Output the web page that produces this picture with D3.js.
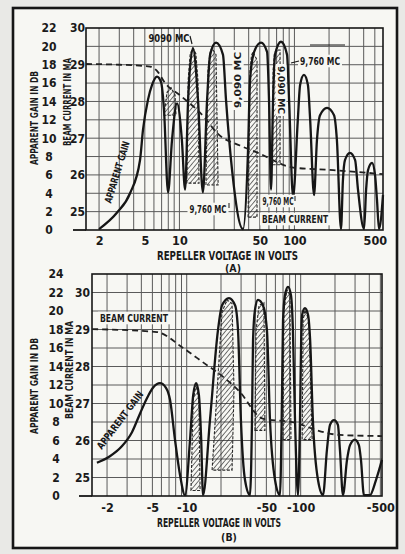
<!DOCTYPE html>
<html>
<head>
<meta charset="utf-8">
<script src="https://cdn.jsdelivr.net/npm/d3@7"></script>
<style>
  body { margin: 0; background: #e9e9e6; }
  svg { display: block; }
  text {
    font-family: "Liberation Sans Narrow", "DejaVu Sans Condensed", "Arial Narrow", sans-serif;
    font-weight: bold;
    fill: #1a1a1a;
  }
</style>
</head>
<body>
<svg id="chart" width="405" height="554"></svg>
<script>
// ---------------------------------------------------------------
// Reflex klystron: apparent gain and beam current vs repeller voltage
// ---------------------------------------------------------------

// Shared axis tick values
const gainTicksA = [0, 2, 4, 6, 8, 10, 12, 14, 16, 18, 20, 22];
const gainTicksB = [0, 2, 4, 6, 8, 10, 12, 14, 16, 18, 20, 22, 24];
const beamTicks = [25, 26, 27, 28, 29, 30];

// Panel (A): positive repeller voltage
const voltTicksA = [2, 5, 10, 50, 100, 500];

// [repeller volts, beam current mA]
const beamCurrentA = [
  [1.54, 29.02], [3.04, 29.0], [5.55, 28.95], [6.51, 28.8], [7.5, 28.5],
  [10.1, 28.17], [16.7, 27.55], [21.2, 27.14], [33.6, 26.8], [48.2, 26.6],
  [97.3, 26.2], [217, 26.13], [589, 26.02]
];

// [repeller volts, apparent gain dB] at 9,760 MC
const gain9760A = [
  [2.00, 0.1], [2.87, 1.9], [3.72, 4.0], [4.54, 7.6], [4.82, 10.9], [5.33, 14.2],
  [5.78, 15.8], [6.38, 16.7], [6.92, 16.1], [7.34, 13.1], [7.96, 4.1],
  [8.62, 9.8], [9.53, 13.8], [10.5, 9.8], [11.2, 4.4],
  [11.9, 14.2], [13.1, 19.8], [14.5, 14.2], [16.0, 4.1],
  [17.4, 14.2], [18.5, 19.1], [20.8, 20.4], [23.9, 19.1], [25.4, 14.2], [28.7, 6.5], [35.7, 0.1],
  [39.5, 8.7], [41.1, 16.3], [44.6, 19.4], [51.2, 20.4], [57.8, 19.4], [60.1, 14.2], [62.6, 4.4],
  [65.2, 14.2], [67.8, 19.1], [76.4, 20.5], [86.2, 19.1], [89.8, 14.2], [97.3, 3.6],
  [107, 12.0], [112, 15.8], [121, 16.9], [131, 15.8], [137, 12.0], [148, 3.8],
  [157, 9.8], [167, 12.5], [192, 13.3], [221, 12.5], [234, 9.8], [254, 0.1],
  [264, 5.4], [275, 7.6], [304, 8.4], [337, 7.6], [357, 4.4], [403, 0.1],
  [420, 4.4], [436, 6.5], [473, 7.3], [502, 6.0], [522, 3.3], [544, 0.1], [589, 3.8]
];

// 9,090 MC modes (hatched), each an outline of [volts, dB]
const hatch9090A = [
  [[7.34, 12.5], [7.8, 15.0], [8.45, 15.5], [9.16, 14.7], [9.34, 12.5]],
  [[11.6, 5.1], [11.9, 16.3], [12.4, 19.2], [13.1, 19.8], [13.9, 19.2], [14.5, 16.3], [14.8, 5.1]],
  [[17.0, 4.9], [17.7, 17.4], [18.5, 19.4], [19.2, 19.8], [20.8, 19.1], [21.7, 4.9]],
  [[39.5, 1.4], [41.1, 17.4], [42.3, 19.0], [43.6, 19.4], [47.3, 18.5], [47.3, 1.4]],
  [[63.9, 7.1], [65.2, 17.4], [67.0, 19.2], [69.2, 19.6], [75.0, 19.6], [75.0, 7.1]]
];

// Panel (B): negative repeller voltage
const voltTicksB = [-2, -5, -10, -50, -100, -500];

const beamCurrentB = [
  [-1.48, 29.01], [-5.49, 28.93], [-9.3, 28.5], [-15.0, 28.04], [-18.4, 27.85],
  [-29.3, 27.31], [-45.8, 26.6], [-92.5, 26.47], [-138, 26.28], [-221, 26.15], [-517, 26.12]
];

const gain9760B = [
  [-1.63, 3.6], [-2.12, 4.3], [-2.71, 5.4], [-3.31, 6.9], [-3.89, 8.9], [-4.49, 10.6],
  [-5.06, 11.7], [-5.83, 12.2], [-6.58, 11.7], [-7.14, 10.4], [-7.89, 6.1], [-8.73, 2.3], [-9.66, 0.1],
  [-10.7, 6.1], [-11.4, 10.9], [-12.1, 12.2], [-12.8, 10.9], [-13.4, 6.1], [-13.9, 0.1],
  [-16.0, 8.2], [-18.8, 17.9], [-20.4, 20.6], [-23.5, 21.4], [-26.6, 20.6], [-28.2, 17.9], [-29.9, 8.2], [-32.5, 1.7], [-35.9, 0.1],
  [-37.4, 8.2], [-38.2, 16.9], [-39.7, 20.1], [-42.2, 21.2], [-46.7, 20.6], [-50.6, 17.9], [-53.8, 8.2], [-59.6, 1.7], [-65.8, 0.1],
  [-68.5, 10.4], [-70.0, 19.0], [-72.8, 21.7], [-77.4, 22.6], [-82.2, 21.7], [-85.5, 17.9], [-89.2, 8.2], [-94.7, 0.1],
  [-98.6, 8.2], [-101, 16.9], [-103, 19.6], [-109, 20.3], [-116, 19.6], [-121, 16.9], [-128, 8.2], [-142, 1.7], [-157, 0.1],
  [-170, 5.0], [-181, 7.7], [-196, 8.2], [-212, 7.7], [-221, 5.0], [-235, 0.1],
  [-255, 3.9], [-271, 5.5], [-299, 6.1], [-324, 5.5], [-338, 3.9], [-359, 0.1],
  [-405, 0.1], [-457, 1.7], [-517, 3.9]
];

const hatch9090B = [
  [[-10.9, 0.6], [-11.4, 10.4], [-12.1, 12.0], [-12.8, 10.4], [-13.1, 0.6]],
  [[-16.7, 2.8], [-18.5, 11.5], [-20.4, 19.9], [-22.6, 21.2], [-25.0, 20.8], [-26.0, 11.5], [-25.0, 2.8]],
  [[-39.7, 7.1], [-40.6, 17.9], [-43.1, 20.6], [-47.6, 20.9], [-48.6, 7.1]],
  [[-70.0, 6.1], [-71.3, 20.1], [-75.8, 22.3], [-80.5, 21.7], [-82.2, 6.1]],
  [[-103, 6.1], [-105, 19.0], [-109, 20.1], [-118, 19.0], [-126, 6.1]]
];

// ---------------------------------------------------------------
const INK = "#161616";
const PAPER = "#f7f7f3";
const GRID = "#5a5a5a";

const svg = d3.select("#chart");

const defs = svg.append("defs");
defs.append("pattern")
  .attr("id", "hatch")
  .attr("patternUnits", "userSpaceOnUse")
  .attr("width", 3.6).attr("height", 3.6)
  .attr("patternTransform", "rotate(40)")
  .append("line")
  .attr("x1", 0).attr("y1", 0).attr("x2", 0).attr("y2", 3.6)
  .attr("stroke", "#2a2a2a").attr("stroke-width", 1.3);

// page sheet with its border
svg.append("rect").attr("x", 0).attr("y", 0).attr("width", 405).attr("height", 554).attr("fill", "#e9e9e6");
svg.append("rect")
  .attr("x", 13).attr("y", 8).attr("width", 384).attr("height", 540)
  .attr("fill", PAPER).attr("stroke", INK).attr("stroke-width", 2.6);

function drawPanel(p) {
  const g = svg.append("g");
  const x = d3.scaleLog().domain(p.xDomain).range([p.left, p.right]);
  const yG = d3.scaleLinear().domain([0, p.gainMax]).range([p.bottom, p.top]);
  const yB = d3.scaleLinear().domain(p.beamDomain).range([p.bottom, p.top]);

  // log grid
  const vGrid = x.ticks().filter(v => x(v) > p.left + 1 && x(v) < p.right - 1);
  g.append("g").selectAll("line").data(vGrid).join("line")
    .attr("x1", d => x(d)).attr("x2", d => x(d))
    .attr("y1", p.top).attr("y2", p.bottom)
    .attr("stroke", GRID).attr("stroke-width", 1);
  g.append("g").selectAll("line").data(p.gainTicks.filter(v => v > 0 && v < p.gainMax)).join("line")
    .attr("x1", p.left).attr("x2", p.right)
    .attr("y1", d => yG(d)).attr("y2", d => yG(d))
    .attr("stroke", GRID).attr("stroke-width", 1);

  // frame
  g.append("rect")
    .attr("x", p.left).attr("y", p.top)
    .attr("width", p.right - p.left).attr("height", p.bottom - p.top)
    .attr("fill", "none").attr("stroke", INK).attr("stroke-width", 1.6);
  g.append("line")
    .attr("x1", p.left - 13).attr("x2", p.left)
    .attr("y1", p.bottom).attr("y2", p.bottom)
    .attr("stroke", INK).attr("stroke-width", 1.8);

  // 9,090 MC hatched modes
  const outline = d3.line().x(d => x(d[0])).y(d => yG(d[1])).curve(d3.curveLinearClosed);
  g.append("g").selectAll("path").data(p.hatch).join("path")
    .attr("d", outline)
    .attr("fill", "url(#hatch)")
    .attr("stroke", "#2a2a2a").attr("stroke-width", 1.1)
    .attr("stroke-dasharray", "3,1.5");

  // 9,760 MC gain curve
  const gainLine = d3.line().x(d => x(d[0])).y(d => yG(d[1])).curve(d3.curveMonotoneX);
  g.append("path").datum(p.gain)
    .attr("d", gainLine)
    .attr("fill", "none").attr("stroke", INK)
    .attr("stroke-width", 2.3).attr("stroke-linejoin", "round");

  // beam current (dashed)
  const beamLine = d3.line().x(d => x(d[0])).y(d => yB(d[1])).curve(d3.curveMonotoneX);
  g.append("path").datum(p.beam)
    .attr("d", beamLine)
    .attr("fill", "none").attr("stroke", "#202020")
    .attr("stroke-width", 1.8).attr("stroke-dasharray", "6,4");

  // axes
  const xAxis = g.append("g")
    .attr("transform", `translate(0,${p.xLabelY})`)
    .call(d3.axisBottom(x).tickValues(p.xTicks).tickSize(0).tickPadding(0).tickFormat(d => String(d)));
  xAxis.select(".domain").remove();
  xAxis.attr("font-family", null);
  xAxis.selectAll("text").attr("font-size", 12.5).attr("fill", INK);

  const gAxis = g.append("g")
    .attr("transform", `translate(${p.gainLabelX},0)`)
    .call(d3.axisLeft(yG).tickValues(p.gainTicks).tickSize(0).tickPadding(0).tickFormat(d => String(d)));
  gAxis.select(".domain").remove();
  gAxis.attr("font-family", null).attr("text-anchor", null);
  gAxis.selectAll("text").attr("text-anchor", "middle").attr("x", 0).attr("font-size", 12).attr("fill", INK);

  const bAxis = g.append("g")
    .attr("transform", `translate(${p.beamLabelX},0)`)
    .call(d3.axisLeft(yB).tickValues(beamTicks).tickSize(0).tickPadding(0).tickFormat(d => String(d)));
  bAxis.select(".domain").remove();
  bAxis.attr("font-family", null);
  bAxis.selectAll("text").attr("x", 0).attr("font-size", 12).attr("fill", INK);

  // axis titles
  const vTitle = (t, cx, cy, len, size) => g.append("text")
    .attr("transform", `translate(${cx},${cy}) rotate(-90)`)
    .attr("text-anchor", "middle").attr("dy", "0.35em")
    .attr("font-size", size)
    .attr("textLength", len).attr("lengthAdjust", "spacingAndGlyphs")
    .text(t);
  vTitle("APPARENT GAIN IN DB", 34, p.gainTitleY, p.gainTitleLen, 11);
  vTitle("BEAM CURRENT IN MA", p.beamTitleX, p.beamTitleY, p.beamTitleLen, 10.5);

  g.append("text")
    .attr("x", p.xTitleX).attr("y", p.xTitleY)
    .attr("font-size", 12.5)
    .attr("textLength", p.xTitleLen).attr("lengthAdjust", "spacingAndGlyphs")
    .text("REPELLER VOLTAGE IN VOLTS");
  g.append("text")
    .attr("x", p.tagX).attr("y", p.tagY)
    .attr("text-anchor", "middle").attr("font-size", 10.5)
    .text(p.tag);

  return { g, x, yG, yB };
}

function label(g, t, cx, cy, opts = {}) {
  const size = opts.size || 10.5;
  const rot = opts.rotate || 0;
  const len = opts.len;
  const grp = g.append("g").attr("transform", `translate(${cx},${cy}) rotate(${rot})`);
  if (opts.box) {
    grp.append("rect")
      .attr("x", -len / 2 - 2).attr("y", -size * 0.6)
      .attr("width", len + 4).attr("height", size * 1.2)
      .attr("fill", PAPER);
  }
  const txt = grp.append("text")
    .attr("text-anchor", "middle").attr("dy", "0.36em")
    .attr("font-size", size)
    .text(t);
  if (len) txt.attr("textLength", len).attr("lengthAdjust", "spacingAndGlyphs");
  return grp;
}

function stroke(g, pts, w = 1) {
  g.append("path").attr("d", d3.line()(pts))
    .attr("fill", "none").attr("stroke", INK).attr("stroke-width", w);
}

// ---- Panel (A)
const A = drawPanel({
  left: 86, right: 383, top: 28, bottom: 230,
  xDomain: [1.54, 589], gainMax: 22, beamDomain: [24.5, 30],
  xTicks: voltTicksA, gainTicks: gainTicksA,
  gain: gain9760A, beam: beamCurrentA, hatch: hatch9090A,
  xLabelY: 236, gainLabelX: 49, beamLabelX: 85,
  gainTitleY: 118, gainTitleLen: 94,
  beamTitleX: 67, beamTitleY: 102, beamTitleLen: 88,
  xTitleX: 157, xTitleY: 260, xTitleLen: 141,
  tag: "(A)", tagX: 233, tagY: 272
});

label(A.g, "APPARENT GAIN", 117, 172, { rotate: -73, len: 64, size: 10 });
label(A.g, "9090 MC", 169, 38, { len: 41, size: 10.5 });
stroke(A.g, [[190, 36], [192, 44]], 1.2);
label(A.g, "9,090 MC", 238, 80, { rotate: -90, len: 56, size: 9.5, box: true });
label(A.g, "9,090 MC", 281, 90, { rotate: 90, len: 48, size: 9, box: true });
label(A.g, "9,760 MC", 320, 61, { len: 40, size: 10.5, box: true });
stroke(A.g, [[291, 63], [299, 61]], 1.2);
stroke(A.g, [[310, 45], [345, 45]], 1.2);
label(A.g, "9,760 MC", 208, 209, { len: 37, size: 10.5, box: true });
stroke(A.g, [[229, 203], [229, 208]], 1);
label(A.g, "9,760 MC", 278, 201, { len: 31, size: 10.5, box: true });
stroke(A.g, [[295, 196], [295, 201]], 1);
label(A.g, "BEAM CURRENT", 295, 219, { len: 66, size: 10.5, box: true });

// ---- Panel (B)
const B = drawPanel({
  left: 92, right: 382, top: 274, bottom: 496,
  xDomain: [-1.476, -517], gainMax: 24, beamDomain: [24.5, 30.5],
  xTicks: voltTicksB, gainTicks: gainTicksB,
  gain: gain9760B, beam: beamCurrentB, hatch: hatch9090B,
  xLabelY: 503, gainLabelX: 56, beamLabelX: 90,
  gainTitleY: 386, gainTitleLen: 96,
  beamTitleX: 69, beamTitleY: 370, beamTitleLen: 98,
  xTitleX: 157, xTitleY: 527, xTitleLen: 124,
  tag: "(B)", tagX: 229, tagY: 541
});

label(B.g, "BEAM CURRENT", 134, 318, { len: 68, size: 10.5, box: true });
label(B.g, "APPARENT GAIN", 120, 420, { rotate: -53, len: 70, size: 10 });
</script>
</body>
</html>
